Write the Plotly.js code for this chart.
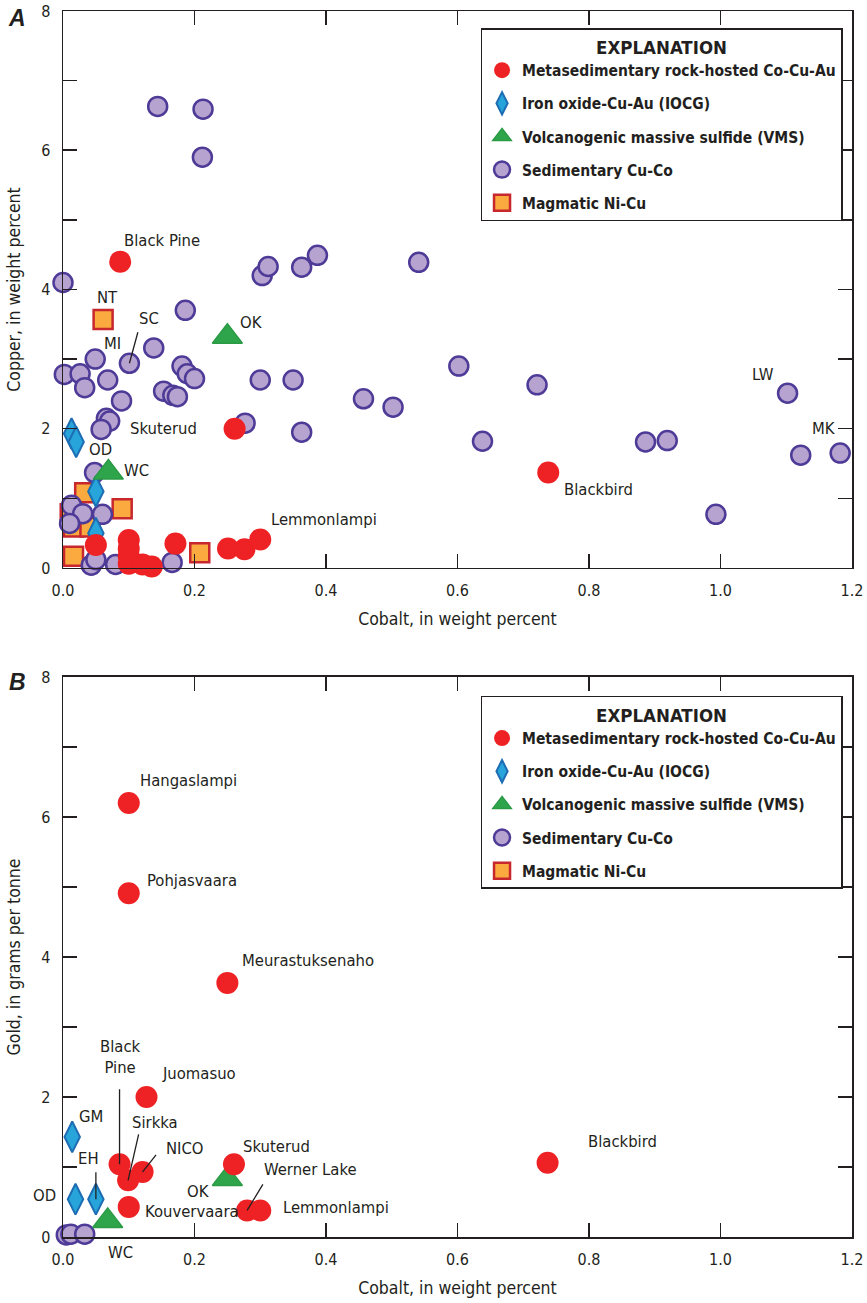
<!DOCTYPE html>
<html><head><meta charset="utf-8">
<script src="https://cdn.plot.ly/plotly-3.0.1.min.js"></script>
<style>html,body{margin:0;padding:0;background:#fff}#chart{width:867px;height:1303px}</style>
</head><body><div id="chart"></div>
<script>
// ---------- tick labels ----------
const cobaltTicks = [0, 0.2, 0.4, 0.6, 0.8, 1.0, 1.2];
const yTickVals = [0, 1, 2, 3, 4, 5, 6, 7, 8];
const yTickText = ['0', '', '2', '', '4', '', '6', '', '8'];
const seriesNames = ['Metasedimentary rock-hosted Co-Cu-Au', 'Iron oxide-Cu-Au (IOCG)',
  'Volcanogenic massive sulfide (VMS)', 'Sedimentary Cu-Co', 'Magmatic Ni-Cu'];

// ---------- Panel A: cobalt vs copper (wt%) ----------
const metaA_co = [0.087, 0.261, 0.738, 0.050, 0.100, 0.100, 0.100, 0.100, 0.121, 0.135, 0.171, 0.251, 0.276, 0.300];
const metaA_cu = [4.40, 2.00, 1.37, 0.33, 0.40, 0.28, 0.17, 0.06, 0.05, 0.02, 0.35, 0.28, 0.27, 0.41];
const metaA_site = ['Black Pine', 'Skuterud', 'Blackbird', '', '', '', '', '', '', '', '', '', '', 'Lemmonlampi'];

const iocgA_co = [0.013, 0.020, 0.050, 0.050];
const iocgA_cu = [1.93, 1.81, 1.10, 0.50];
const iocgA_site = ['', 'OD', '', ''];

const vmsA_co = [0.250, 0.069];
const vmsA_cu = [3.32, 1.37];
const vmsA_site = ['OK', 'WC'];

const sedA_co = [0.144, 0.213, 0.212, 0.000, 0.186, 0.303, 0.312, 0.363, 0.387, 0.541, 0.138, 0.049, 0.101, 0.181, 0.189, 0.200,
  0.002, 0.026, 0.033, 0.068, 0.089, 0.153, 0.167, 0.174, 0.066, 0.071, 0.058, 0.277, 0.300, 0.350, 0.363, 0.457, 0.502,
  0.602, 0.638, 0.721, 0.886, 0.919, 0.993, 1.102, 1.122, 1.182, 0.048, 0.013, 0.030, 0.010, 0.060, 0.043, 0.080, 0.166, 0.050];
const sedA_cu = [6.63, 6.59, 5.90, 4.10, 3.70, 4.20, 4.33, 4.32, 4.49, 4.39, 3.16, 3.00, 2.94, 2.90, 2.79, 2.72,
  2.78, 2.79, 2.59, 2.70, 2.40, 2.54, 2.48, 2.46, 2.15, 2.11, 1.99, 2.08, 2.70, 2.70, 1.95, 2.43, 2.31,
  2.90, 1.82, 2.63, 1.81, 1.83, 0.77, 2.51, 1.62, 1.65, 1.37, 0.90, 0.78, 0.64, 0.77, 0.04, 0.05, 0.08, 0.12];
const sedA_site = sedA_co.map(() => '');
sedA_site[11] = 'MI'; sedA_site[12] = 'SC'; sedA_site[39] = 'LW'; sedA_site[41] = 'MK';

const magA_co = [0.061, 0.033, 0.090, 0.011, 0.016, 0.041, 0.016, 0.208];
const magA_cu = [3.57, 1.08, 0.85, 0.78, 0.59, 0.59, 0.17, 0.22];
const magA_site = ['NT', '', '', '', '', '', '', ''];

// ---------- Panel B: cobalt (wt%) vs gold (g/t) ----------
const metaB_co = [0.100, 0.100, 0.250, 0.127, 0.086, 0.121, 0.099, 0.100, 0.260, 0.280, 0.300, 0.737];
const metaB_au = [6.20, 4.91, 3.63, 2.00, 1.04, 0.93, 0.81, 0.43, 1.04, 0.38, 0.38, 1.06];
const metaB_site = ['Hangaslampi', 'Pohjasvaara', 'Meurastuksenaho', 'Juomasuo', 'Black Pine', 'NICO', 'Sirkka',
  'Kouvervaara', 'Skuterud', 'Werner Lake', 'Lemmonlampi', 'Blackbird'];

const iocgB_co = [0.014, 0.019, 0.050];
const iocgB_au = [1.43, 0.54, 0.54];
const iocgB_site = ['GM', 'OD', 'EH'];

const vmsB_co = [0.250, 0.068];
const vmsB_au = [0.83, 0.23];
const vmsB_site = ['OK', 'WC'];

const sedB_co = [0.005, 0.012, 0.033];
const sedB_au = [0.03, 0.04, 0.04];

const magB_co = [null];
const magB_au = [null];

// ---------- styles ----------
const F = '"Liberation Sans Narrow", "Arial Narrow", "DejaVu Sans Condensed", sans-serif';
const INK = '#231F20';
const styles = {
  meta: {symbol: 'circle', size: 22, color: '#EE2124', line: {width: 0}},
  iocg: {symbol: 'diamond-tall', size: 22, color: '#27A4D9', line: {width: 2, color: '#1C6DB3'}},
  vms: {symbol: 'triangle-up', size: 26, color: '#2FA54B', line: {width: 1.5, color: '#2A9A45'}},
  sed: {symbol: 'circle', size: 19, color: '#B6A3CF', line: {width: 2.5, color: '#4E3B98'}},
  mag: {symbol: 'square', size: 19, color: '#FAAA3F', line: {width: 2.5, color: '#C8272E'}}
};
const rank = {meta: 1, iocg: 2, vms: 3, sed: 4, mag: 5};
const nameOf = {meta: seriesNames[0], iocg: seriesNames[1], vms: seriesNames[2], sed: seriesNames[3], mag: seriesNames[4]};

function tr(key, xs, ys, panel) {
  const xa = panel === 'A' ? 'x' : 'x2', ya = panel === 'A' ? 'y' : 'y2';
  return {type: 'scatter', mode: 'markers', x: xs, y: ys, xaxis: xa, yaxis: ya,
    name: nameOf[key], legend: panel === 'A' ? 'legend' : 'legend2', legendrank: rank[key],
    legendgroup: key + panel, marker: styles[key], cliponaxis: false, hoverinfo: 'x+y'};
}

const data = [
  tr('mag', magA_co, magA_cu, 'A'), tr('sed', sedA_co, sedA_cu, 'A'), tr('iocg', iocgA_co, iocgA_cu, 'A'),
  tr('vms', vmsA_co, vmsA_cu, 'A'), tr('meta', metaA_co, metaA_cu, 'A'),
  tr('mag', magB_co, magB_au, 'B'), tr('sed', sedB_co, sedB_au, 'B'), tr('iocg', iocgB_co, iocgB_au, 'B'),
  tr('vms', vmsB_co, vmsB_au, 'B'), tr('meta', metaB_co, metaB_au, 'B')
];

// ---------- labels (offsets in px) ----------
const pts = {
  A: {meta: [metaA_co, metaA_cu, metaA_site], iocg: [iocgA_co, iocgA_cu, iocgA_site], vms: [vmsA_co, vmsA_cu, vmsA_site],
      sed: [sedA_co, sedA_cu, sedA_site], mag: [magA_co, magA_cu, magA_site]},
  B: {meta: [metaB_co, metaB_au, metaB_site], iocg: [iocgB_co, iocgB_au, iocgB_site], vms: [vmsB_co, vmsB_au, vmsB_site]}
};
function find(panel, key, site) {
  const s = pts[panel][key]; const i = s[2].indexOf(site); return [s[0][i], s[1][i]];
}
// [panel, series, site, text, xanchor, dx, dy]
const labelPlace = [
  ['A', 'meta', 'Black Pine', 'Black Pine', 'left', 2, 21],
  ['A', 'mag', 'NT', 'NT', 'center', 4, 22],
  ['A', 'sed', 'SC', 'SC', 'center', 20, 45],
  ['A', 'sed', 'MI', 'MI', 'center', 17, 16],
  ['A', 'vms', 'OK', 'OK', 'left', 11, 14],
  ['A', 'meta', 'Skuterud', 'Skuterud', 'right', -36, 0],
  ['A', 'iocg', 'OD', 'OD', 'left', 11, -8],
  ['A', 'vms', 'WC', 'WC', 'left', 14, 2],
  ['A', 'meta', 'Lemmonlampi', 'Lemmonlampi', 'left', 9, 20],
  ['A', 'meta', 'Blackbird', 'Blackbird', 'left', 14, -17],
  ['A', 'sed', 'LW', 'LW', 'center', -25, 19],
  ['A', 'sed', 'MK', 'MK', 'center', -16, 25],
  ['B', 'meta', 'Hangaslampi', 'Hangaslampi', 'left', 9, 22],
  ['B', 'meta', 'Pohjasvaara', 'Pohjasvaara', 'left', 16, 13],
  ['B', 'meta', 'Meurastuksenaho', 'Meurastuksenaho', 'left', 13, 22],
  ['B', 'meta', 'Juomasuo', 'Juomasuo', 'left', 13, 23],
  ['B', 'meta', 'Black Pine', 'Black<br>Pine', 'center', 1, 107],
  ['B', 'meta', 'Sirkka', 'Sirkka', 'center', 27, 58],
  ['B', 'meta', 'NICO', 'NICO', 'center', 42, 23],
  ['B', 'meta', 'Skuterud', 'Skuterud', 'left', 7, 18],
  ['B', 'meta', 'Werner Lake', 'Werner Lake', 'left', 15, 41],
  ['B', 'meta', 'Kouvervaara', 'Kouvervaara', 'left', 14, -5],
  ['B', 'meta', 'Lemmonlampi', 'Lemmonlampi', 'left', 21, 3],
  ['B', 'meta', 'Blackbird', 'Blackbird', 'left', 38, 21],
  ['B', 'iocg', 'GM', 'GM', 'left', 5, 20],
  ['B', 'iocg', 'EH', 'EH', 'center', -7, 41],
  ['B', 'iocg', 'OD', 'OD', 'right', -17, 4],
  ['B', 'vms', 'OK', 'OK', 'right', -15, -13],
  ['B', 'vms', 'WC', 'WC', 'center', 13, -32]
];
// leader lines: [panel, series, site, tail dx, tail dy(px, down positive)]
const leaders = [
  ['A', 'sed', 'SC', 9, -33],
  ['B', 'meta', 'Black Pine', 0, -77],
  ['B', 'meta', 'Sirkka', 11, -48],
  ['B', 'meta', 'NICO', 15, -19],
  ['B', 'meta', 'Werner Lake', 17, -28],
  ['B', 'iocg', 'EH', 0, -29]
];

const annotations = [];
labelPlace.forEach(([p, k, s, t, xa, dx, dy]) => {
  const [x, y] = find(p, k, s);
  annotations.push({x: x, y: y, xref: p === 'A' ? 'x' : 'x2', yref: p === 'A' ? 'y' : 'y2', text: t,
    showarrow: false, xanchor: xa, yanchor: 'middle', xshift: dx, yshift: dy,
    font: {family: F, size: 16.5, color: INK}});
});
leaders.forEach(([p, k, s, ax, ay]) => {
  const [x, y] = find(p, k, s);
  annotations.push({x: x, y: y, xref: p === 'A' ? 'x' : 'x2', yref: p === 'A' ? 'y' : 'y2', text: ' ',
    showarrow: true, arrowhead: 0, arrowwidth: 1.3, arrowcolor: INK, ax: ax, ay: ay, standoff: 0,
    font: {size: 1}});
});
annotations.push({x: -0.058, y: 0.9943, xref: 'paper', yref: 'paper', text: '<b><i>A</i></b>', showarrow: false,
  font: {family: 'Liberation Sans, Arial, sans-serif', size: 23, color: INK}, xanchor: 'center', yanchor: 'middle'});
annotations.push({x: -0.058, y: 0.4527, xref: 'paper', yref: 'paper', text: '<b><i>B</i></b>', showarrow: false,
  font: {family: 'Liberation Sans, Arial, sans-serif', size: 23, color: INK}, xanchor: 'center', yanchor: 'middle'});

const axCommon = {showline: true, linecolor: INK, linewidth: 1.5, mirror: 'ticks', ticks: 'inside', ticklen: 14,
  tickwidth: 1.5, tickcolor: INK, showgrid: false, zeroline: false, fixedrange: true,
  ticklabeloverflow: 'allow', tickfont: {family: F, size: 16, color: INK}};
const xAx = (anchor, title) => Object.assign({}, axCommon, {anchor: anchor, range: [0, 1.2], tickvals: cobaltTicks,
  tickformat: '.1f', ticklabelstandoff: 7,
  title: {text: title, font: {family: F, size: 17.5, color: INK}, standoff: 14}});
const yAx = (anchor, dom, title) => Object.assign({}, axCommon, {anchor: anchor, domain: dom, range: [0, 8],
  tickvals: yTickVals, ticktext: yTickText, ticklabelstandoff: 8,
  title: {text: title, font: {family: F, size: 17.5, color: INK}, standoff: 16}});

const legCommon = {xanchor: 'right', yanchor: 'top', bgcolor: '#fff', bordercolor: INK, borderwidth: 1.5,
  font: {family: F, size: 15.5, color: INK, weight: 'bold'}, itemsizing: 'trace', tracegroupgap: 10,
  title: {text: '<b>EXPLANATION</b>', side: 'top center', font: {family: F, size: 18.5, color: INK}},
  itemclick: false, itemdoubleclick: false};

const layout = {
  width: 867, height: 1303, paper_bgcolor: '#fff', plot_bgcolor: '#fff', showlegend: true,
  margin: {l: 63, r: 15, t: 11, b: 66},
  xaxis: xAx('y', 'Cobalt, in weight percent'),
  yaxis: yAx('x', [0.5457, 1], 'Copper, in weight percent'),
  xaxis2: xAx('y2', 'Cobalt, in weight percent'),
  yaxis2: yAx('x2', [0, 0.4568], 'Gold, in grams per tonne'),
  legend: Object.assign({}, legCommon, {x: 0.988, y: 0.9861}),
  legend2: Object.assign({}, legCommon, {x: 0.988, y: 0.4413}),
  annotations: annotations
};
Plotly.newPlot('chart', data, layout, {displayModeBar: false, staticPlot: true});
</script>
</body></html>
